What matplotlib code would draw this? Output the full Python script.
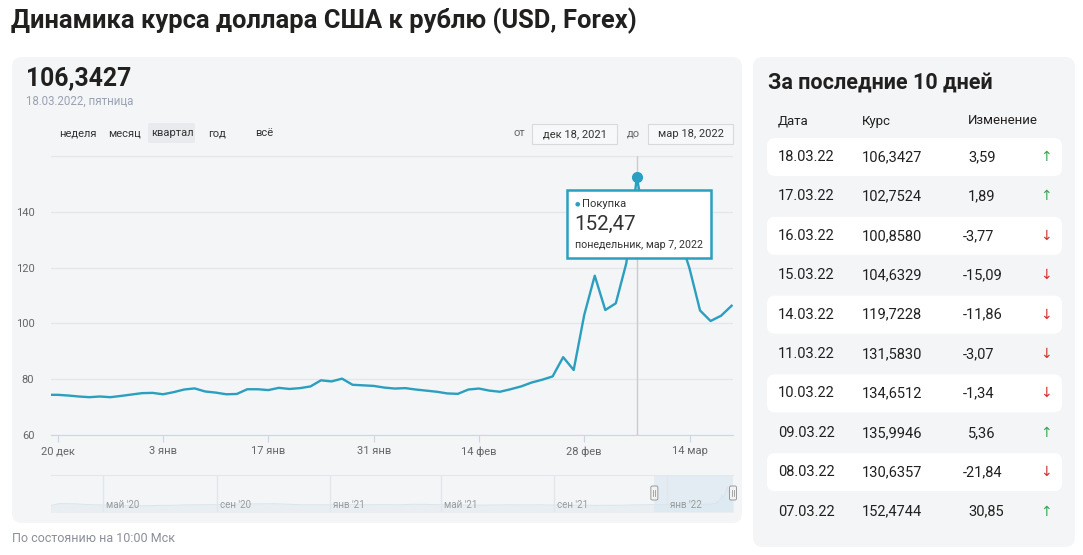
import matplotlib.pyplot as plt
import matplotlib.dates as mdates
import matplotlib.transforms as mtransforms
from matplotlib.patches import FancyBboxPatch, Rectangle
import pandas as pd

plt.rcParams['font.family'] = ['Roboto', 'DejaVu Sans']

W, H = 1083, 555

# курс USD/RUB по рабочим дням, 17.12.2021 - 18.03.2022
usd_rub = [74.4, 74.4, 74.15, 73.8, 73.55, 73.8, 73.55, 74.0, 74.5, 75.0,
           75.1, 74.6, 75.35, 76.3, 76.7, 75.6, 75.2, 74.6, 74.7, 76.4,
           76.4, 76.1, 76.9, 76.5, 76.8, 77.4, 79.6, 79.2, 80.2, 78.0,
           77.8, 77.6, 77.0, 76.65, 76.8, 76.3, 75.9, 75.5, 74.9, 74.75,
           76.3, 76.65, 75.9, 75.5, 76.4, 77.4, 78.8, 79.8, 81.0, 87.9,
           83.3, 103.0, 117.1, 104.8, 107.2, 121.62, 152.47, 130.64, 135.99, 134.65,
           131.58, 119.72, 104.63, 100.86, 102.75, 106.34]
days = pd.bdate_range('2021-12-17', '2022-03-18')

tick_dates = ['2021-12-20', '2022-01-03', '2022-01-17', '2022-01-31',
              '2022-02-14', '2022-02-28', '2022-03-14']
tick_labels = ['20 дек', '3 янв', '17 янв', '31 янв', '14 фев', '28 фев', '14 мар']
y_ticks = [60, 80, 100, 120, 140, 160]
y_labels = ['60', '80', '100', '120', '140', '']

# навигатор: весь период (по полмесяца)
nav_dates = ['2020-03-01', '2020-03-15', '2020-04-01', '2020-04-15', '2020-05-01', '2020-05-15',
             '2020-06-01', '2020-06-15', '2020-07-01', '2020-07-15', '2020-08-01', '2020-08-15',
             '2020-09-01', '2020-09-15', '2020-10-01', '2020-10-15', '2020-11-01', '2020-11-15',
             '2020-12-01', '2020-12-15', '2021-01-01', '2021-01-15', '2021-02-01', '2021-02-15',
             '2021-03-01', '2021-03-15', '2021-04-01', '2021-04-15', '2021-05-01', '2021-05-15',
             '2021-06-01', '2021-06-15', '2021-07-01', '2021-07-15', '2021-08-01', '2021-08-15',
             '2021-09-01', '2021-09-15', '2021-10-01', '2021-10-15', '2021-11-01', '2021-11-15',
             '2021-12-01']
nav_values = [66.5, 79.0, 78.0, 74.5, 73.0, 72.0,
              69.5, 69.8, 71.0, 71.5, 73.5, 73.8,
              74.5, 76.0, 77.5, 78.0, 78.5, 76.5,
              74.0, 73.5, 73.8, 74.0, 74.5, 74.0,
              74.3, 73.5, 76.0, 75.5, 74.0, 73.5,
              72.5, 72.3, 73.0, 73.5, 73.2, 73.5,
              72.7, 72.5, 72.0, 71.0, 71.5, 72.3,
              73.5]
nav_months = ['2020-05-01', '2020-09-01', '2021-01-01', '2021-05-01', '2021-09-01', '2022-01-01']
nav_month_labels = ["май '20", "сен '20", "янв '21", "май '21", "сен '21", "янв '22"]

# последние 10 дней
table_dates = ['18.03.22', '17.03.22', '16.03.22', '15.03.22', '14.03.22',
               '11.03.22', '10.03.22', '09.03.22', '08.03.22', '07.03.22']
table_rates = ['106,3427', '102,7524', '100,8580', '104,6329', '119,7228',
               '131,5830', '134,6512', '135,9946', '130,6357', '152,4744']
table_changes = [3.59, 1.89, -3.77, -15.09, -11.86, -3.07, -1.34, 5.36, -21.84, 30.85]

teal = '#2b9fbf'
dark = '#21201f'
panel = '#f3f5f7'


def box(ax, x0, y0, x1, y1, fc, ec='none', r=8, lw=1, z=1):
    ax.add_patch(FancyBboxPatch((x0, y0), x1 - x0, y1 - y0,
                                boxstyle=f"round,pad=0,rounding_size={r}",
                                fc=fc, ec=ec, lw=lw, zorder=z))


def pixel_axes(z):
    a = fig.add_axes([0, 0, 1, 1], zorder=z)
    a.set_xlim(0, W)
    a.set_ylim(H, 0)
    a.axis('off')
    a.patch.set_alpha(0)
    return a


fig = plt.figure(figsize=(W / 100, H / 100), dpi=100)
bg = pixel_axes(0)

# панели
box(bg, 12, 57, 742, 523, panel, r=10)
box(bg, 753, 57, 1075, 547, panel, r=10)

bg.text(11, 21, 'Динамика курса доллара США к рублю (USD, Forex)', fontsize=18.4,
        weight='bold', va='center', color=dark)
bg.text(26, 78, '106,3427', fontsize=17.8, weight='bold', va='center', color=dark)
bg.text(26, 101, '18.03.2022, пятница', fontsize=8.3, va='center', color='#9aa1b2')

# переключатели периода
box(bg, 148, 123, 195, 143, '#e8eaed', r=2, z=2)
for lbl, x in zip(['неделя', 'месяц', 'квартал', 'год', 'всё'], [59, 108, 151, 208, 255]):
    bg.text(x, 133, lbl, fontsize=8, va='center', color='#333333', zorder=3)

bg.text(514, 133, 'от', fontsize=8, va='center', color='#666666')
bg.text(627, 133, 'до', fontsize=8, va='center', color='#666666')
for x0, x1, lbl in [(532, 617, 'дек 18, 2021'), (648, 733, 'мар 18, 2022')]:
    bg.add_patch(Rectangle((x0, 124), x1 - x0, 20, fc='#f7f8f9', ec='#d6d9dd', lw=0.8, zorder=2))
    bg.text((x0 + x1) / 2, 134, lbl, fontsize=8, ha='center', va='center', color='#333333', zorder=3)

# основной график
ax = fig.add_axes([51 / W, 1 - 435 / H, 682 / W, 279 / H], zorder=2)
ax.patch.set_alpha(0)
x = list(range(len(usd_rub)))
ax.plot(x, usd_rub, color=teal, lw=1.7, zorder=3)
peak = days.get_loc(pd.Timestamp('2022-03-07'))
ax.axvline(peak, color='#cccccc', lw=1, zorder=2)
ax.plot(peak, usd_rub[peak], 'o', color=teal, ms=7, zorder=4)

ax.set_xlim(0.36, 65.13)
ax.set_ylim(60, 160)
ax.set_yticks(y_ticks)
ax.set_yticklabels(y_labels)
ax.set_xticks([days.get_loc(pd.Timestamp(d)) for d in tick_dates])
ax.set_xticklabels(tick_labels)
ax.yaxis.grid(True, color='#e4e6e9', lw=1)
ax.set_axisbelow(True)
ax.tick_params(axis='y', length=0, pad=12, labelsize=8, labelcolor='#666666')
ax.tick_params(axis='x', length=5, color='#ccd6eb', labelsize=8, labelcolor='#666666', pad=3)
for s in ['top', 'left', 'right']:
    ax.spines[s].set_visible(False)
ax.spines['bottom'].set_color('#ccd6eb')

# навигатор
nav = fig.add_axes([51 / W, 1 - 512 / H, 682 / W, 37 / H], zorder=2)
nav.patch.set_alpha(0)
nd = list(pd.to_datetime(nav_dates)) + list(days)
nv = nav_values + usd_rub
nav.fill_between(nd, nv, 40, color='#e4ecf1', alpha=0.7, lw=0)
nav.plot(nd, nv, color='#d8e5ec', lw=0.7)
nav.set_xlim(pd.Timestamp('2020-03-06'), pd.Timestamp('2022-03-13'))
nav.set_ylim(42, 205)
nav.set_xticks([])
nav.set_yticks([])
for s in ['bottom', 'left', 'right']:
    nav.spines[s].set_visible(False)
nav.spines['top'].set_color('#e3e6ea')
sel_start = pd.Timestamp('2021-12-18')
nav.axvspan(sel_start, pd.Timestamp('2022-03-13'), color='#dbe9f1', alpha=0.7, lw=0)
lbl_tr = mtransforms.offset_copy(nav.get_xaxis_transform(), fig=fig, x=3, y=0, units='dots')
for d, lbl in zip(nav_months, nav_month_labels):
    nav.axvline(pd.Timestamp(d), color='#e3e6ea', lw=1)
    nav.text(pd.Timestamp(d), 0.19, lbl, transform=lbl_tr, fontsize=7, va='center', color='#9a9a9a')

# оверлей: подсказка и ручки навигатора
top = pixel_axes(5)
top.add_patch(Rectangle((567, 190), 144, 68, fc='white', ec=teal, lw=1.8, zorder=5))
top.text(575, 204, '●', fontsize=4.5, va='center', color=teal, zorder=6)
top.text(582, 204, 'Покупка', fontsize=8, va='center', color='#333333', zorder=6)
top.text(574, 224, '152,47', fontsize=14.8, va='center', color='#333333', zorder=6)
top.text(575, 245, 'понедельник, мар 7, 2022', fontsize=7.7, va='center', color='#333333', zorder=6)

for d in [sel_start, pd.Timestamp('2022-03-13')]:
    hx = nav.transData.transform((mdates.date2num(d), 0))[0]
    box(top, hx - 3.5, 486, hx + 3.5, 500, '#f2f2f2', ec='#999999', r=1.5, lw=0.7, z=6)
    for dx in (-1, 1):
        top.plot([hx + dx, hx + dx], [490, 496], color='#999999', lw=0.6, zorder=7)

# таблица за 10 дней
bg.text(768, 83, 'За последние 10 дней', fontsize=15.5, weight='bold', va='center', color=dark)
for lbl, hx in zip(['Дата', 'Курс', 'Изменение'], [778, 862, 968]):
    bg.text(hx, 121, lbl, fontsize=9.5, va='center', color=dark)
for i, (d, r, c) in enumerate(zip(table_dates, table_rates, table_changes)):
    yc = 157 + i * 39.4
    if i % 2 == 0:
        box(bg, 767, yc - 19, 1062, yc + 19, 'white', r=8, z=2)
    bg.text(778, yc, d, fontsize=10.5, va='center', color=dark, zorder=3)
    bg.text(862, yc, r, fontsize=10.5, va='center', color=dark, zorder=3)
    s = f'{c:.2f}'.replace('.', ',')
    bg.text(968 if c > 0 else 963, yc, s, fontsize=10.5, va='center', color=dark, zorder=3)
    bg.text(1046, yc, '↑' if c > 0 else '↓', fontsize=10, ha='center', va='center',
            color='#3aa655' if c > 0 else '#d0312d', zorder=3)

bg.text(12, 539, 'По состоянию на 10:00 Мск', fontsize=9, va='center', color='#8a8f99')

fig.savefig('out.png', dpi=100)
